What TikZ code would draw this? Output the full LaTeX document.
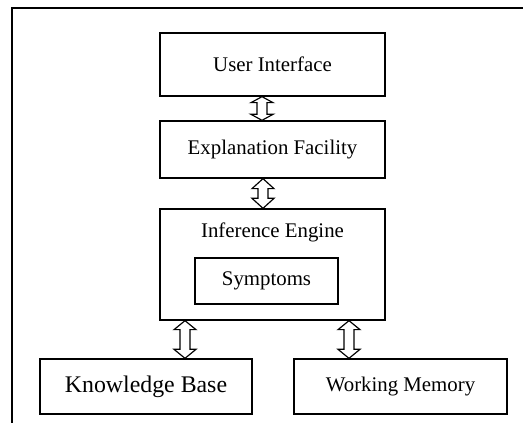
\documentclass[tikz,border=0pt]{standalone}
\usepackage{fontspec}
\setmainfont{Liberation Serif}
\usepackage{tikz}
\usetikzlibrary{calc}

\tikzset{
  box/.style={draw,line width=0.8pt,inner sep=0pt,font=\fontsize{12.5}{14}\selectfont},
  dblarrow/.style={line width=0.7pt,to path={
    let \p1=(\tikztostart), \p2=(\tikztotarget) in
    (\x1,\y1) -- (\x1+6.6pt,\y1-#1) -- (\x1+3pt,\y1-#1)
    -- (\x1+3pt,\y2+#1) -- (\x1+6.6pt,\y2+#1) -- (\x1,\y2)
    -- (\x1-6.6pt,\y2+#1) -- (\x1-3pt,\y2+#1)
    -- (\x1-3pt,\y1-#1) -- (\x1-6.6pt,\y1-#1) -- cycle}},
  dblarrow/.default=5.4pt
}

\begin{document}
\begin{tikzpicture}[x=0.6pt,y=-0.6pt]
\useasboundingbox (0,0) rectangle (523,423);

% Frame
\draw[line width=0.8pt] (12,423) -- (12,8) -- (523,8);

% Boxes
\node[box,minimum width=135pt,minimum height=37.8pt] (ui) at (272.5,64.5) {User Interface};
\node[box,minimum width=135pt,minimum height=34.2pt] (ef) at (272.5,149.5) {Explanation Facility};
\node[box,minimum width=135pt,minimum height=66.6pt] (ie) at (272.5,264.5) {};
\node[font=\fontsize{12.5}{14}\selectfont] (ietext) at (272.5,232) {Inference Engine};
\node[box,minimum width=85.8pt,minimum height=27.6pt] (sym) at (266.5,281) {Symptoms};
\node[box,minimum width=127.2pt,minimum height=33pt,font=\fontsize{14.3}{16}\selectfont] (kb) at (146,386.5) {Knowledge Base};
\node[box,minimum width=127.8pt,minimum height=33pt] (wm) at (400.5,386.5) {Working Memory};

% Two-way arrows
\draw[dblarrow=3.6pt] (ui.south -| 262,0) to (ef.north -| 262,0);
\draw[dblarrow=6pt] (ef.south -| 263,0) to (ie.north -| 263,0);
\draw[dblarrow] (ie.south -| 185,0) to (kb.north -| 185,0);
\draw[dblarrow] (ie.south -| 349,0) to (wm.north -| 349,0);

\end{tikzpicture}
\end{document}
